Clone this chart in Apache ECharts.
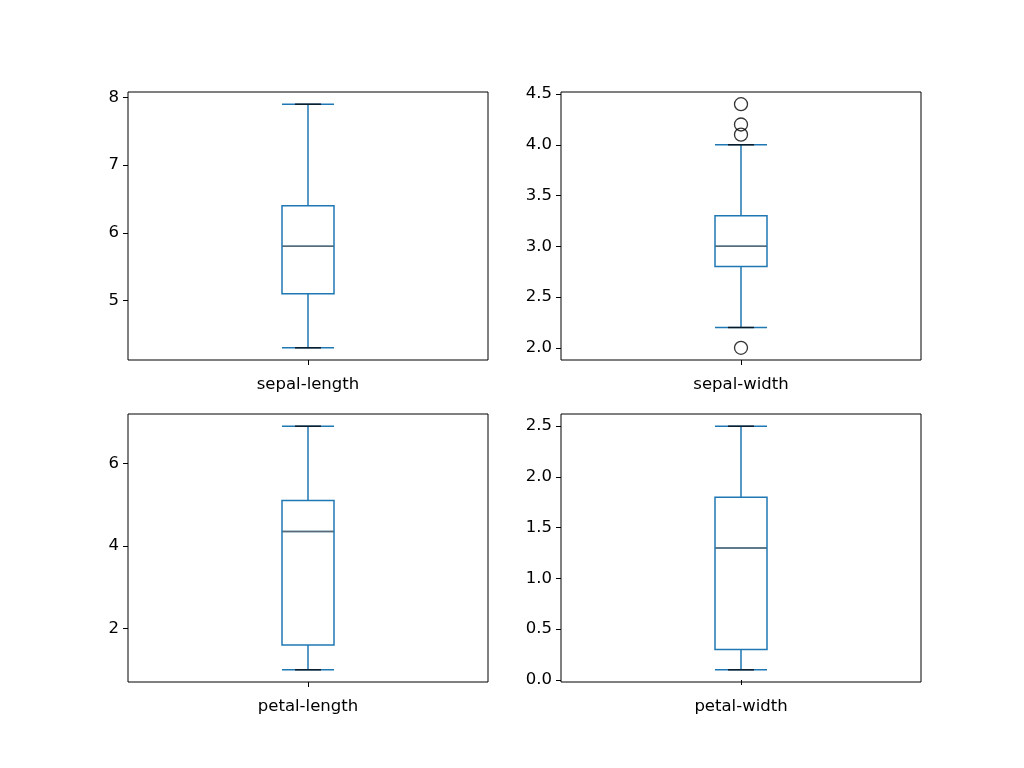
<!DOCTYPE html>
<html><head><meta charset="utf-8">
<script src="https://cdn.jsdelivr.net/npm/echarts@6/dist/echarts.min.js"></script>
<style>html,body{margin:0;background:#fff}#c{width:1024px;height:768px}</style>
</head><body><div id="c"></div>
<script>
const names = ['sepal-length','sepal-width','petal-length','petal-width'];
// [low whisker, Q1, median, Q3, high whisker]
const boxes = [
  [4.3, 5.1, 5.8, 6.4, 7.9],
  [2.2, 2.8, 3.0, 3.3, 4.0],
  [1.0, 1.6, 4.35, 5.1, 6.9],
  [0.1, 0.3, 1.3, 1.8, 2.5]
];
const outliers = [[], [4.4, 4.1, 4.2, 2.0], [], []];
const yTicks = [[5,6,7,8],[2.0,2.5,3.0,3.5,4.0,4.5],[2,4,6],[0.0,0.5,1.0,1.5,2.0,2.5]];
const yDecimals = [0,1,0,1];

const grids=[], xAxis=[], yAxis=[], series=[];
const pos=[[128,92],[561,92],[128,414],[561,414]];
names.forEach((n,i)=>{
  const b=boxes[i], all=b.concat(outliers[i]);
  const lo=Math.min(...all), hi=Math.max(...all), m=(hi-lo)*0.05;
  grids.push({left:pos[i][0],top:pos[i][1],width:360,height:268,show:true,borderColor:'#000',borderWidth:1});
  xAxis.push({type:'category',gridIndex:i,data:[n],axisLine:{show:false},
    axisTick:{show:true,alignWithLabel:true,length:5,lineStyle:{color:'#000'}},
    axisLabel:{color:'#000',fontSize:16.5,fontFamily:'DejaVu Sans',margin:16}});
  yAxis.push({type:'value',gridIndex:i,min:lo-m,max:hi+m,splitLine:{show:false},
    axisLine:{show:false},
    axisTick:{show:true,length:5,lineStyle:{color:'#000'},customValues:yTicks[i]},
    axisLabel:{color:'#000',fontSize:16.5,fontFamily:'DejaVu Sans',margin:9,customValues:yTicks[i],
      formatter:v=>Number(v).toFixed(yDecimals[i])}});
  series.push({type:'boxplot',xAxisIndex:i,yAxisIndex:i,data:[b],boxWidth:[52,52],
    itemStyle:{color:'#fff',borderColor:'#1f77b4',borderWidth:1.5}});
  series.push({type:'scatter',xAxisIndex:i,yAxisIndex:i,data:[[0,b[2]]],symbol:'rect',
    symbolSize:[51,1.5],itemStyle:{color:'#666'},z:5});
  series.push({type:'scatter',xAxisIndex:i,yAxisIndex:i,data:[[0,b[0]],[0,b[4]]],symbol:'rect',
    symbolSize:[26,1.5],itemStyle:{color:'#000'},z:5});
  if(outliers[i].length) series.push({type:'scatter',xAxisIndex:i,yAxisIndex:i,
    data:outliers[i].map(v=>[0,v]),symbol:'circle',symbolSize:13,
    itemStyle:{color:'transparent',borderColor:'#000',borderWidth:1.3},z:6});
});
const ch=echarts.init(document.getElementById('c'));
ch.setOption({animation:false,grid:grids,xAxis,yAxis,series});
</script></body></html>
